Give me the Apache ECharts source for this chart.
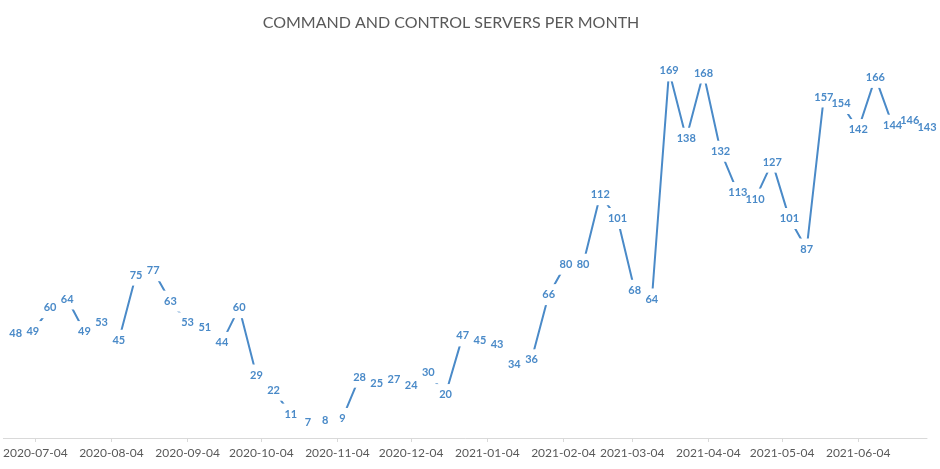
<!DOCTYPE html>
<html>
<head>
<meta charset="utf-8">
<script src="https://cdn.jsdelivr.net/npm/echarts@6/dist/echarts.min.js"></script>
<style>
    html, body { margin: 0; padding: 0; background: #fff; }
    #chart { width: 940px; height: 469px; }
</style>
</head>
<body>
<div id="chart"></div>
<script>
// weekly dates of the samples
const weeks = [
    "2020-06-26", "2020-07-03", "2020-07-10", "2020-07-17", "2020-07-24", "2020-07-31",
    "2020-08-07", "2020-08-14", "2020-08-21", "2020-08-28", "2020-09-04", "2020-09-11",
    "2020-09-18", "2020-09-25", "2020-10-02", "2020-10-09", "2020-10-16", "2020-10-23",
    "2020-10-30", "2020-11-06", "2020-11-13", "2020-11-20", "2020-11-27", "2020-12-04",
    "2020-12-11", "2020-12-18", "2020-12-25", "2021-01-01", "2021-01-08", "2021-01-15",
    "2021-01-22", "2021-01-29", "2021-02-05", "2021-02-12", "2021-02-19", "2021-02-26",
    "2021-03-05", "2021-03-12", "2021-03-19", "2021-03-26", "2021-04-02", "2021-04-09",
    "2021-04-16", "2021-04-23", "2021-04-30", "2021-05-07", "2021-05-14", "2021-05-21",
    "2021-05-28", "2021-06-04", "2021-06-11", "2021-06-18", "2021-06-25", "2021-07-02",
];
// servers counted each week
const servers = [
    48, 49, 60, 64, 49, 53, 45, 75, 77, 63, 53, 51, 44, 60, 29, 22, 11, 7,
    8, 9, 28, 25, 27, 24, 30, 20, 47, 45, 43, 34, 36, 66, 80, 80, 112, 101,
    68, 64, 169, 138, 168, 132, 113, 110, 127, 101, 87, 157, 154, 142, 166, 144,
    146, 143,
];
// labels on the date axis
const tickDates = [
    "2020-07-04", "2020-08-04", "2020-09-04", "2020-10-04", "2020-11-04", "2020-12-04",
    "2021-01-04", "2021-02-04", "2021-03-04", "2021-04-04", "2021-05-04", "2021-06-04",
];

const toTime = (s) => {
    const [y, m, d] = s.split("-").map(Number);
    return Date.UTC(y, m - 1, d);
};
const pad = (n) => String(n).padStart(2, "0");
const fmtDate = (t) => {
    const d = new Date(t);
    return `${d.getUTCFullYear()}-${pad(d.getUTCMonth() + 1)}-${pad(d.getUTCDate())}`;
};

const blue = "#4a8ac8";
const tickValues = tickDates.map(toTime);
const points = weeks.map((w, i) => [toTime(w), servers[i]]);

const labelFont = {
    fontFamily: "Lato",
    fontWeight: "bold",
    fontSize: 11,
};

const option = {
    animation: false,
    title: {
        text: "COMMAND AND CONTROL SERVERS PER MONTH",
        left: 446,
        top: 10,
        textAlign: "center",
        textStyle: {
            fontFamily: "Lato",
            fontSize: 16,
            fontWeight: "normal",
            color: "#595959",
        },
    },
    grid: {
        left: 0,
        right: 13,
        top: 47,
        bottom: 31,
        containLabel: false,
    },
    xAxis: {
        type: "value",
        min: toTime("2020-06-21"),
        max: toTime("2021-07-02"),
        axisLine: {
            show: true,
            lineStyle: { color: "#d9d9d9", width: 1 },
        },
        axisTick: {
            show: true,
            customValues: tickValues,
            length: 4,
            lineStyle: { color: "#d9d9d9" },
        },
        axisLabel: {
            customValues: tickValues,
            formatter: (v) => fmtDate(v),
            color: "#595959",
            fontFamily: "Lato",
            fontSize: 12,
            margin: 9,
        },
        splitLine: { show: false },
    },
    yAxis: {
        type: "value",
        min: 0,
        max: 180,
        show: false,
        splitLine: { show: false },
    },
    series: [
        {
            // the line, with white boxes that cut it round each value
            type: "line",
            z: 2,
            data: points,
            symbol: "circle",
            symbolSize: 0,
            showSymbol: true,
            itemStyle: { color: blue },
            lineStyle: { color: blue, width: 2 },
            label: {
                show: true,
                position: "inside",
                ...labelFont,
                color: "transparent",
                backgroundColor: "#fff",
                padding: [5, 6],
            },
        },
        {
            // value text on top
            type: "line",
            z: 3,
            data: points,
            symbol: "circle",
            symbolSize: 0,
            showSymbol: true,
            silent: true,
            lineStyle: { width: 0, opacity: 0 },
            label: {
                show: true,
                position: "inside",
                ...labelFont,
                color: blue,
            },
        },
    ],
};

const chart = echarts.init(document.getElementById("chart"));
chart.setOption(option);
</script>
</body>
</html>
